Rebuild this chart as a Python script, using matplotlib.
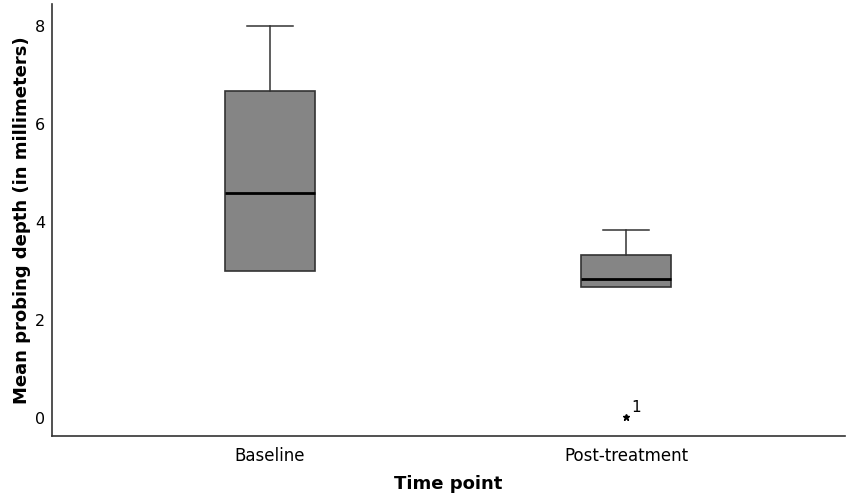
import matplotlib
matplotlib.use("Agg")
import matplotlib.pyplot as plt

categories = ["Baseline", "Post-treatment"]
whisker_low = [3.0, 2.67]
q1 = [3.0, 2.67]
medians = [4.6, 2.83]
q3 = [6.67, 3.33]
whisker_high = [8.0, 3.84]
outliers = [[], [0.03]]
outlier_ids = [[], ["1"]]

stats = []
for i, name in enumerate(categories):
    stats.append({"label": name, "whislo": whisker_low[i], "q1": q1[i], "med": medians[i],
                  "q3": q3[i], "whishi": whisker_high[i], "fliers": outliers[i]})

fig = plt.figure(figsize=(8.48, 4.97), dpi=100)
ax = fig.add_axes([0.0613, 0.1227, 0.9352, 0.8693])

parts = ax.bxp(stats, positions=[0, 1], widths=0.253, patch_artist=True, showfliers=False,
               boxprops=dict(facecolor="#858585", edgecolor="#333333", linewidth=1.2),
               medianprops=dict(color="black", linewidth=2),
               whiskerprops=dict(color="#333333", linewidth=1.1),
               capprops=dict(color="#333333", linewidth=1.1),
               capwidths=0.13)
# lower whiskers coincide with the box bottom, so hide their caps
for cap in parts["caps"][0::2]:
    cap.set_visible(False)

for i, vals in enumerate(outliers):
    for v, lab in zip(vals, outlier_ids[i]):
        ax.plot(i, v, marker="*", color="black", markersize=5, linestyle="none")
        ax.annotate(lab, (i, v), xytext=(4, 3), textcoords="offset points",
                    fontsize=11, color="black")

ax.set_xlim(-0.612, 1.615)
ax.set_ylim(-0.367, 8.45)
ax.set_yticks([0, 2, 4, 6, 8])
ax.set_xticks([0, 1])
ax.set_xticklabels(categories)
ax.tick_params(axis="x", length=0, labelsize=12, pad=8)
ax.tick_params(axis="y", length=0, labelsize=11.5, pad=5)
ax.spines["top"].set_visible(False)
ax.spines["right"].set_visible(False)
for side in ("left", "bottom"):
    ax.spines[side].set_color("#333333")
    ax.spines[side].set_linewidth(1.2)
ax.set_xlabel("Time point", fontsize=13, fontweight="bold", labelpad=7)
ax.set_ylabel("Mean probing depth (in millimeters)", fontsize=13, fontweight="bold", labelpad=3)

fig.savefig("out.png", dpi=100)
